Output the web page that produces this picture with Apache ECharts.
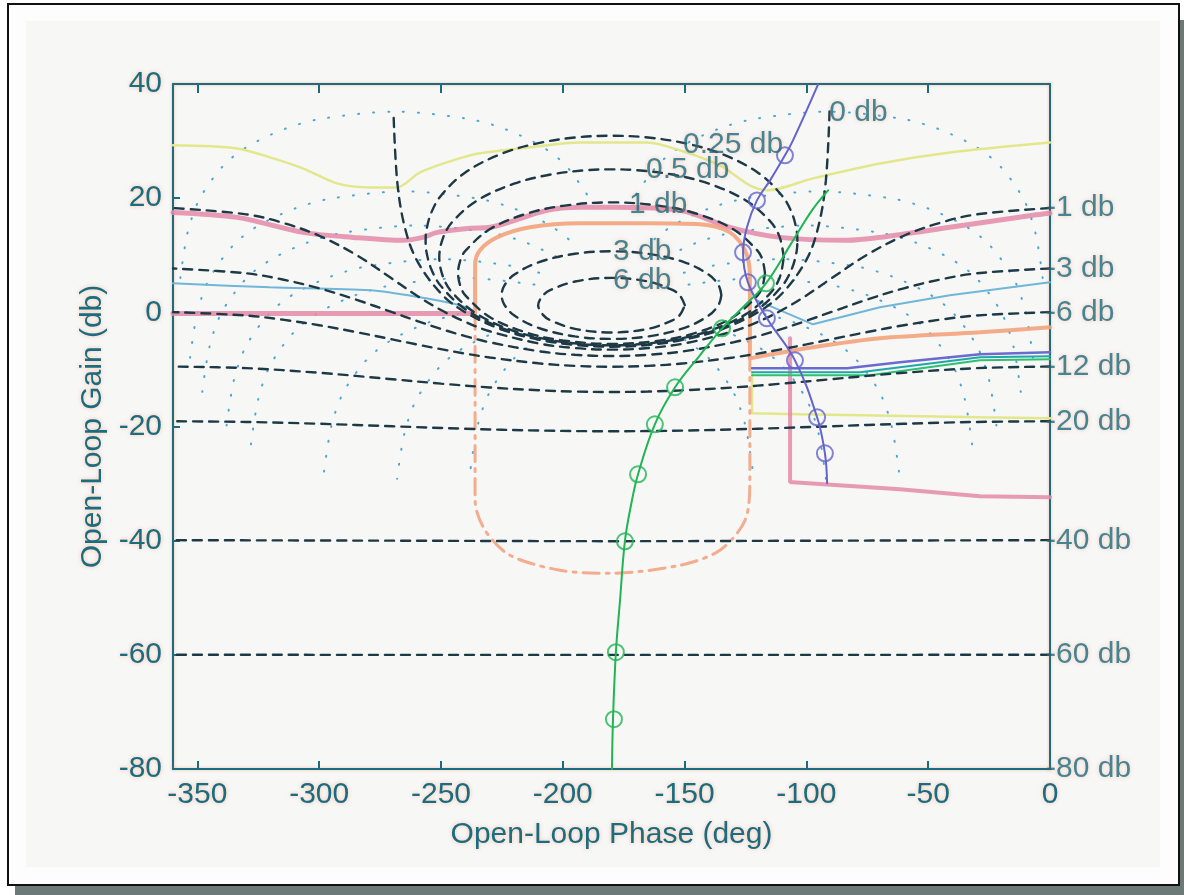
<!DOCTYPE html>
<html><head><meta charset="utf-8">
<script src="https://cdn.jsdelivr.net/npm/echarts@6/dist/echarts.min.js"></script>
<style>html,body{margin:0;padding:0;background:#fff}#c{width:1184px;height:895px}</style>
</head><body><div id="c"></div>
<script>
// ---------- axis ticks ----------
const phaseTicks = [-350,-300,-250,-200,-150,-100,-50,0];
const gainTicks = [40,20,0,-20,-40,-60,-80];

// ---------- closed-loop magnitude contours (dashed) [phase deg, gain dB] ----------
const mMinus1 = [[0,18.27],[-30,17.17],[-45,15.70],[-60,13.42],[-75,10.11],[-90,5.87],[-100,2.96],[-110,0.40],[-120,-1.68],[-130,-3.31],[-150,-5.44],[-165,-6.26],[-180,-6.54],[-195,-6.26],[-210,-5.44],[-230,-3.31],[-240,-1.68],[-250,0.40],[-260,2.96],[-270,5.87],[-285,10.11],[-300,13.42],[-315,15.70],[-330,17.17],[-360,18.27]];
const mMinus3 = [[0,7.69],[-30,6.84],[-45,5.75],[-60,4.21],[-75,2.25],[-90,0.02],[-100,-1.48],[-110,-2.90],[-120,-4.17],[-130,-5.25],[-150,-6.80],[-165,-7.44],[-180,-7.65],[-195,-7.44],[-210,-6.80],[-230,-5.25],[-240,-4.17],[-250,-2.90],[-260,-1.48],[-270,0.02],[-285,2.25],[-300,4.21],[-315,5.75],[-330,6.84],[-360,7.69]];
const mMinus6 = [[0,0.04],[-30,-0.55],[-45,-1.28],[-60,-2.26],[-75,-3.45],[-90,-4.74],[-100,-5.62],[-110,-6.45],[-120,-7.23],[-130,-7.91],[-150,-8.93],[-165,-9.38],[-180,-9.53],[-195,-9.38],[-210,-8.93],[-230,-7.91],[-240,-7.23],[-250,-6.45],[-260,-5.62],[-270,-4.74],[-285,-3.45],[-300,-2.26],[-315,-1.28],[-330,-0.55],[-360,0.04]];
const mMinus12 = [[0,-9.49],[-30,-9.78],[-60,-10.59],[-90,-11.72],[-110,-12.49],[-130,-13.16],[-150,-13.65],[-165,-13.88],[-180,-13.95],[-195,-13.88],[-210,-13.65],[-230,-13.16],[-250,-12.49],[-270,-11.72],[-300,-10.59],[-330,-9.78],[-360,-9.49]];
const mMinus20 = [[0,-19.08],[-30,-19.20],[-60,-19.52],[-90,-19.96],[-120,-20.39],[-150,-20.71],[-180,-20.83],[-210,-20.71],[-240,-20.39],[-270,-19.96],[-300,-19.52],[-330,-19.20],[-360,-19.08]];
const mMinus40 = [[0,-39.91],[-90,-40.0],[-180,-40.09],[-270,-40.0],[-360,-39.91]];
const mMinus60 = [[0,-59.99],[-180,-60.01],[-360,-59.99]];
const m0 = [[-90.5,35.2],[-92,23.1],[-95,15.17],[-100,9.19],[-110,3.30],[-120,0],[-135,-3.01],[-150,-4.77],[-165,-5.72],[-180,-6.02],[-195,-5.72],[-210,-4.77],[-225,-3.01],[-240,0],[-250,3.30],[-260,9.19],[-265,15.17],[-268,23.1],[-269.5,35.2]];
const m025 = [[-103.7,12.52],[-104,14.36],[-106,17.44],[-110,20.44],[-120,24.51],[-135,27.8],[-150,29.64],[-165,30.63],[-180,30.94],[-195,30.63],[-210,29.64],[-225,27.8],[-240,24.51],[-250,20.44],[-254,17.44],[-256,14.36],[-256.3,12.52],[-256,10.68],[-254,7.60],[-250,4.60],[-240,0.54],[-225,-2.77],[-210,-4.60],[-195,-5.58],[-180,-5.89],[-165,-5.58],[-150,-4.60],[-135,-2.77],[-120,0.54],[-110,4.60],[-106,7.60],[-104,10.68],[-103.7,12.52]];
const m05 = [[-109.3,9.64],[-111,13.23],[-115,16.01],[-125,19.64],[-140,22.54],[-155,24.14],[-170,24.91],[-180,25.05],[-190,24.91],[-205,24.14],[-220,22.54],[-235,19.64],[-245,16.01],[-249,13.23],[-250.7,9.64],[-249,6.04],[-245,3.27],[-235,-0.36],[-220,-3.27],[-205,-4.86],[-190,-5.64],[-180,-5.78],[-170,-5.64],[-155,-4.86],[-140,-3.27],[-125,-0.36],[-115,3.27],[-111,6.04],[-109.3,9.64]];
const m1 = [[-117,6.87],[-118,9.17],[-120,10.77],[-130,14.55],[-145,17.27],[-160,18.66],[-180,19.27],[-200,18.66],[-215,17.27],[-230,14.55],[-240,10.77],[-242,9.17],[-243,6.87],[-242,4.57],[-240,2.97],[-230,-0.82],[-215,-3.53],[-200,-4.93],[-180,-5.53],[-160,-4.93],[-145,-3.53],[-130,-0.82],[-120,2.97],[-118,4.57],[-117,6.87]];
const m3 = [[-134.9,3.02],[-136,4.69],[-140,6.57],[-150,8.76],[-165,10.26],[-180,10.69],[-195,10.26],[-210,8.76],[-220,6.57],[-224,4.69],[-225.1,3.02],[-224,1.36],[-220,-0.53],[-210,-2.72],[-195,-4.22],[-180,-4.65],[-165,-4.22],[-150,-2.72],[-140,-0.53],[-136,1.36],[-134.9,3.02]];
const m6 = [[-149.9,1.26],[-152,3.00],[-155,3.92],[-165,5.40],[-180,6.04],[-195,5.40],[-205,3.92],[-208,3.00],[-210.1,1.26],[-208,-0.49],[-205,-1.41],[-195,-2.89],[-180,-3.53],[-165,-2.89],[-155,-1.41],[-152,-0.49],[-149.9,1.26]];

// ---------- closed-loop phase contours (dotted, sparse) ----------
const n1 = [[-3,6.02],[-6,13.97],[-11,19.95],[-21,25.84],[-31,29.14],[-46,32.15],[-61,33.91],[-91,35.16],[-121,33.91],[-136,32.15],[-151,29.14],[-161,25.84],[-171,19.95]];
const n1m = [[-357,6.02],[-354,13.97],[-349,19.95],[-339,25.84],[-329,29.14],[-314,32.15],[-299,33.91],[-269,35.16],[-239,33.91],[-224,32.15],[-209,29.14],[-199,25.84],[-189,19.95]];
const n5 = [[-7,-7.95],[-10,0],[-15,5.98],[-25,11.87],[-35,15.17],[-50,18.18],[-65,19.94],[-95,21.19],[-125,19.94],[-140,18.18],[-155,15.17],[-165,11.87]];
const n5m = [[-353,-7.95],[-350,0],[-345,5.98],[-335,11.87],[-325,15.17],[-310,18.18],[-295,19.94],[-265,21.19],[-235,19.94],[-220,18.18],[-205,15.17],[-195,11.87]];
const n10 = [[-12,-13.93],[-15,-5.98],[-20,0],[-30,5.89],[-40,9.19],[-55,12.20],[-70,13.96],[-100,15.21],[-130,13.96],[-145,12.20],[-160,9.19]];
const n10m = [[-348,-13.93],[-345,-5.98],[-340,0],[-330,5.89],[-320,9.19],[-305,12.20],[-290,13.96],[-260,15.21],[-230,13.96],[-215,12.20],[-200,9.19]];
const n20 = [[-22,-19.82],[-25,-11.87],[-30,-5.89],[-40,0],[-50,3.30],[-65,6.31],[-80,8.07],[-110,9.32],[-140,8.07],[-155,6.31]];
const n20m = [[-338,-19.82],[-335,-11.87],[-330,-5.89],[-320,0],[-310,3.30],[-295,6.31],[-280,8.07],[-250,9.32],[-220,8.07],[-205,6.31]];
const n30 = [[-32,-23.12],[-35,-15.17],[-40,-9.19],[-50,-3.30],[-60,0],[-75,3.01],[-90,4.77],[-120,6.02],[-150,4.77]];
const n30m = [[-328,-23.12],[-325,-15.17],[-320,-9.19],[-310,-3.30],[-300,0],[-285,3.01],[-270,4.77],[-240,6.02],[-210,4.77]];
const n60a = [[-62,-27.89],[-65,-19.94],[-70,-13.96],[-80,-8.07],[-90,-4.77],[-105,-1.76],[-120,0]];
const n60b = [[-210,-4.77],[-220,-8.07],[-230,-13.96],[-235,-19.94],[-238,-27.89]];
const n60ma = [[-298,-27.89],[-295,-19.94],[-290,-13.96],[-280,-8.07],[-270,-4.77],[-255,-1.76],[-240,0]];
const n60mb = [[-150,-4.77],[-140,-8.07],[-130,-13.96],[-125,-19.94],[-122,-27.89]];
const n90a = [[-92,-29.14],[-95,-21.19],[-100,-15.21],[-110,-9.32],[-120,-6.02],[-135,-3.01]];
const n90b = [[-225,-3.01],[-240,-6.02],[-250,-9.32],[-260,-15.21],[-265,-21.19],[-268,-29.14]];

// ---------- coloured curves ----------
const yellowUpper = [[-360,29.25],[-333.7,28.72],[-320.2,27.15],[-306.7,25.22],[-292.7,22.59],[-279.1,21.89],[-268.1,21.89],[-258.6,24.52],[-245.1,26.62],[-234.0,27.85],[-213.5,28.90],[-193.0,29.77],[-165.4,29.77],[-151.9,28.37],[-135.5,25.74],[-123.2,22.24],[-116.2,21.37],[-97.3,23.47],[-69.8,26.09],[-41.1,28.02],[0,29.77]];
const yellowLower = [[-122.3,-10.5],[-122.3,-17.69],[-102.6,-17.86],[-28.7,-18.39],[0,-18.56]];
const pinkUpper = [[-360,17.51],[-333.7,16.64],[-306.7,14.01],[-286.1,13.13],[-265.6,12.61],[-257.4,13.13],[-251.6,14.01],[-238.1,14.71],[-229.9,14.89],[-206.5,17.86],[-192.9,18.39],[-179.4,18.39],[-151.9,17.86],[-131.4,14.89],[-110.8,13.13],[-83.3,12.61],[-69.8,13.13],[-41.1,14.89],[-7.0,16.99],[0,17.34]];
const pinkLowerLeft = [[-360,-0.2],[-238.1,-0.2]];
const pinkLowerRight = [[-106.7,-4.55],[-106.7,-29.77],[-105.5,-29.77],[-61.6,-31.0],[-28.7,-32.2],[0,-32.4]];
const orangeTop = [[-236.0,-0.2],[-236.0,8.23],[-234.0,10.86],[-227.0,13.13],[-213.5,14.89],[-192.9,15.59],[-165.4,15.59],[-143.7,15.41],[-131.4,14.01],[-125.2,10.86],[-123.2,6.48],[-123.2,-8.06]];
const orangeRight = [[-123.2,-8.06],[-97.3,-6.13],[-69.8,-4.55],[-28.7,-3.50],[0,-2.63]];
const orangeBottom = [[-236.0,-0.2],[-236.0,-32.92],[-231.9,-38.18],[-221.7,-42.56],[-201.1,-45.18],[-180.6,-45.71],[-151.9,-44.31],[-135.5,-41.68],[-125.2,-36.43],[-123.2,-29.42],[-123.2,-8.06]];
const blueLeft = [[-360,5.08],[-320.2,4.38],[-279.1,3.85],[-258.6,2.63],[-242.2,1.23],[-237.3,0.35]];
const blueRight = [[-120.3,2.10],[-97.3,-2.10],[-69.8,0.88],[-41.1,2.98],[0,5.25]];
const purpleFlat = [[-122.3,-9.81],[-83.3,-9.81],[-61.6,-8.76],[-28.7,-7.36],[0,-7.01]];
const tealFlat = [[-122.3,-10.51],[-78.0,-10.51],[-28.7,-7.88],[0,-7.71]];
const greenFlat = [[-122.3,-11.03],[-73.9,-11.03],[-28.7,-8.41],[0,-8.23]];
const purpleLine = [[-95.2,39.93],[-105.5,30.12],[-108.8,27.50],[-114.9,23.12],[-120.3,19.61],[-124.4,14.89],[-126.0,10.51],[-124.0,5.25],[-116.2,-1.05],[-104.7,-8.41],[-95.6,-18.39],[-92.4,-24.69],[-91.5,-29.95]];
const purpleMarks = [[-108.8,27.50],[-120.3,19.61],[-126.0,10.51],[-124.0,5.25],[-116.2,-1.05],[-104.7,-8.41],[-95.6,-18.39],[-92.4,-24.69]];
const greenLine = [[-179.8,-80.0],[-179.4,-71.45],[-178.2,-59.54],[-176.5,-50.44],[-174.5,-40.11],[-172.0,-33.80],[-169.1,-28.37],[-162.2,-19.61],[-153.9,-13.13],[-143.7,-7.53],[-134.6,-2.80],[-125.2,1.23],[-116.6,5.08],[-106.7,11.73],[-97.7,17.86],[-91.1,21.37]];
const greenMarks = [[-179.0,-71.28],[-178.2,-59.54],[-174.5,-40.11],[-169.1,-28.37],[-162.2,-19.61],[-153.9,-13.13],[-134.6,-2.80],[-116.6,5.08]];

// ---------- contour labels ----------
const rightLabelText = ['-1 db','-3 db','-6 db','-12 db','-20 db','-40 db','-60 db','-80 db'];
const rightLabelGain = [18.3,7.6,0.0,-9.5,-19.2,-40,-60,-80];
const innerLabelText = ['0 db','0.25 db','0.5 db','1 db','3 db','6 db'];
const innerLabelPhase = [-89,-149,-164.2,-171.2,-177.7,-177.7];
const innerLabelGain = [35.0,29.4,24.9,18.9,10.7,5.6];

// ---------- build ----------
const TEAL = '#1b6c7f';
const FONT = '"Liberation Sans", Arial, Helvetica, sans-serif';
const halo = {textShadowColor:'rgba(240,130,80,0.45)', textShadowBlur:4};

function ln(data, color, width, type, smooth, z, opacity){
  return {type:'line', data:data, showSymbol:false, symbol:'none', smooth:smooth, silent:true, animation:false, z:z,
    lineStyle:{color:color, width:width, type:type, cap:'round', opacity:(opacity==null?1:opacity)}};
}
const series = [];
[n1,n1m,n5,n5m,n10,n10m,n20,n20m,n30,n30m,n60a,n60b,n60ma,n60mb,n90a,n90b].forEach(d=>series.push(ln(d,'#4aa6d6',2,[1,14],0.3,2)));
series.push(ln(yellowUpper,'#e3e78c',2.5,'solid',0.3,3));
series.push(ln(yellowLower,'#e3e78c',2.5,'solid',false,3));
series.push(ln(pinkUpper,'#e48aa8',5,'solid',0.3,3,0.85));
series.push(ln(pinkLowerLeft,'#e48aa8',5,'solid',false,3,0.85));
series.push(ln(pinkLowerRight,'#e48aa8',4,'solid',false,3,0.85));
series.push(ln(orangeTop,'#f2a27c',4,'solid',0.3,3,0.9));
series.push(ln(orangeRight,'#f2a27c',4,'solid',0.3,3,0.9));
series.push(ln(orangeBottom,'#f3ac8e',3,[16,7,3,7],0.3,3));
series.push(ln(blueLeft,'#6fb6d8',2,'solid',0.3,3));
series.push(ln(blueRight,'#6fb6d8',2,'solid',false,3));
series.push(ln(purpleFlat,'#6a6ad0',2.5,'solid',false,3));
series.push(ln(tealFlat,'#1fa8a8',2,'solid',false,3));
series.push(ln(greenFlat,'#2ec070',2,'solid',false,3));
[mMinus1,mMinus3,mMinus6,mMinus12,mMinus20,mMinus40,mMinus60,m0,m025,m05,m1,m3,m6].forEach(d=>series.push(ln(d,'#1e3946',2.4,[9,7],0.35,4)));
series.push(ln(purpleLine,'#6464cc',2,'solid',0.4,5));
series.push(ln(greenLine,'#20b455',2,'solid',0.4,5));
function marks(data,color){
  return {type:'scatter', data:data, symbol:'circle', symbolSize:16, silent:true, animation:false, z:6,
    itemStyle:{color:'rgba(0,0,0,0)', borderColor:color, borderWidth:2}};
}
series.push(marks(purpleMarks,'#6464cc'));
series.push(marks(greenMarks,'#20b455'));
function labels(items){
  return {type:'scatter', data:items, symbolSize:0, silent:true, animation:false, z:8, clip:false,
    label:{show:true, formatter:p=>p.name, position:'right', distance:0, offset:[-4,0], align:'left', verticalAlign:'middle',
      color:TEAL, fontSize:30, fontFamily:FONT, ...halo}};
}
series.push(labels(rightLabelText.map((t,i)=>({name:t, value:[0,rightLabelGain[i]]}))));
series.push(labels(innerLabelText.map((t,i)=>({name:t, value:[innerLabelPhase[i],innerLabelGain[i]]}))));

const axisLineStyle = {color:TEAL, width:2, shadowColor:'rgba(240,130,80,0.5)', shadowBlur:3};
const option = {
  backgroundColor:'#ffffff',
  animation:false,
  graphic:[
    {type:'rect', z:-30, shape:{x:15,y:20,width:1169,height:875}, style:{fill:'#6c7976'}},
    {type:'rect', z:-29, shape:{x:8,y:4,width:1171,height:881}, style:{fill:'#fdfdfd', stroke:'#111', lineWidth:2}},
    {type:'rect', z:-28, shape:{x:26,y:21,width:1134,height:846}, style:{fill:'#f7f7f6'}}
  ],
  grid:{left:173, top:84, width:877, height:685, containLabel:false},
  xAxis:[
    {type:'value', min:-360, max:0, position:'bottom',
     axisLine:{show:true, onZero:false, lineStyle:axisLineStyle},
     axisTick:{show:true, inside:true, length:8, customValues:phaseTicks, lineStyle:{color:TEAL, width:2}},
     axisLabel:{show:true, customValues:phaseTicks, margin:11, color:TEAL, fontSize:30, fontFamily:FONT, ...halo},
     splitLine:{show:false},
     name:'Open-Loop Phase (deg)', nameLocation:'middle', nameGap:51,
     nameTextStyle:{color:TEAL, fontSize:30, fontFamily:FONT, ...halo}},
    {type:'value', min:-360, max:0, position:'top',
     axisLine:{show:true, onZero:false, lineStyle:axisLineStyle},
     axisTick:{show:true, inside:true, length:9, customValues:phaseTicks, lineStyle:{color:TEAL, width:2}},
     axisLabel:{show:false}, splitLine:{show:false}}
  ],
  yAxis:[
    {type:'value', min:-80, max:40, interval:20, position:'left',
     axisLine:{show:true, onZero:false, lineStyle:axisLineStyle},
     axisTick:{show:true, inside:true, length:7, lineStyle:{color:TEAL, width:2}},
     axisLabel:{show:true, margin:11, color:TEAL, fontSize:30, fontFamily:FONT, ...halo},
     splitLine:{show:false},
     name:'Open-Loop Gain (db)', nameLocation:'middle', nameGap:62,
     nameTextStyle:{color:TEAL, fontSize:30, fontFamily:FONT, ...halo}},
    {type:'value', min:-80, max:40, interval:20, position:'right',
     axisLine:{show:true, onZero:false, lineStyle:axisLineStyle},
     axisTick:{show:false}, axisLabel:{show:false}, splitLine:{show:false}}
  ],
  series:series
};
const chart = echarts.init(document.getElementById('c'), null, {renderer:'canvas'});
chart.setOption(option);
</script></body></html>
